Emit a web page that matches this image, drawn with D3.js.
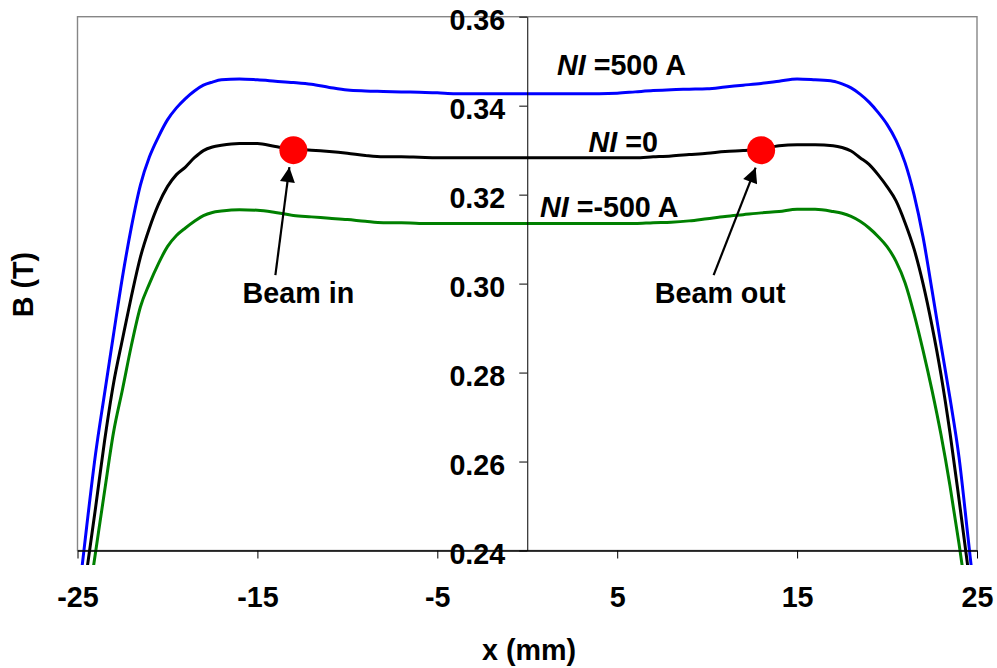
<!DOCTYPE html>
<html>
<head>
<meta charset="utf-8">
<script src="https://cdn.jsdelivr.net/npm/d3@7"></script>
<style>
  html, body { margin: 0; padding: 0; background: #fff; }
  svg { display: block; }
  text { font-family: "Liberation Sans", Arial, Helvetica, sans-serif; font-weight: bold; fill: #000; }
</style>
</head>
<body>
<svg id="chart" width="997" height="668"></svg>
<script>
// Field profile B(x) across the magnet gap for three coil currents NI
const xs = [-24.8, -24.5, -24, -23.5, -23, -22.5, -22, -21.5, -21, -20.5, -20, -19.5, -19, -18.5, -18, -17.5, -17,
  -16, -15, -14, -13, -12, -11, -10, -9, -8, -7, -6, -5, -4, -3, -2, -1, 0, 1, 2, 3, 4, 5, 6, 7, 8, 9, 10, 11, 12,
  13, 14, 15, 16, 17, 17.5, 18, 18.5, 19, 19.5, 20, 20.5, 21, 21.5, 22, 22.5, 23, 23.5, 24, 24.5, 24.8];

const bPlus500 = [0.2345, 0.2450, 0.2616, 0.2752, 0.2885, 0.3015, 0.3128, 0.3222, 0.3285, 0.3330, 0.3368, 0.3395,
  0.3416, 0.3433, 0.3446, 0.3453, 0.3458, 0.3460, 0.3458, 0.3455, 0.3452, 0.3448, 0.3441, 0.3435, 0.3433, 0.3432,
  0.3431, 0.3430, 0.3429, 0.3427, 0.3427, 0.3427, 0.3427, 0.3427, 0.3427, 0.3427, 0.3427, 0.3427, 0.3428, 0.3431,
  0.3434, 0.3436, 0.3437, 0.3438, 0.3442, 0.3446, 0.3450, 0.3455, 0.3460, 0.3458, 0.3455, 0.3449, 0.3440, 0.3426,
  0.3408, 0.3385, 0.3358, 0.3322, 0.3272, 0.3200, 0.3105, 0.2985, 0.2862, 0.2742, 0.2610, 0.2430, 0.2320];

const bZero = [0.2260, 0.2350, 0.2495, 0.2645, 0.2775, 0.2875, 0.2972, 0.3060, 0.3125, 0.3178, 0.3218, 0.3245,
  0.3262, 0.3283, 0.3299, 0.3307, 0.3311, 0.3315, 0.3315, 0.3308, 0.3302, 0.3300, 0.3297, 0.3293, 0.3288, 0.3285,
  0.3285, 0.3284, 0.3283, 0.3283, 0.3283, 0.3283, 0.3283, 0.3283, 0.3283, 0.3283, 0.3283, 0.3283, 0.3283, 0.3283,
  0.3285, 0.3287, 0.3290, 0.3293, 0.3297, 0.3299, 0.3302, 0.3310, 0.3312, 0.3312, 0.3310, 0.3306, 0.3298, 0.3283,
  0.3268, 0.3245, 0.3218, 0.3186, 0.3137, 0.3078, 0.3000, 0.2905, 0.2795, 0.2664, 0.2515, 0.2360, 0.2265];

const bMinus500 = [0.2175, 0.2258, 0.2395, 0.2532, 0.2665, 0.2762, 0.2862, 0.2948, 0.3000, 0.3045, 0.3083, 0.3108,
  0.3125, 0.3140, 0.3153, 0.3160, 0.3163, 0.3166, 0.3165, 0.3160, 0.3153, 0.3150, 0.3147, 0.3144, 0.3140, 0.3137,
  0.3137, 0.3135, 0.3135, 0.3135, 0.3135, 0.3135, 0.3135, 0.3135, 0.3135, 0.3135, 0.3135, 0.3135, 0.3135, 0.3135,
  0.3137, 0.3138, 0.3141, 0.3146, 0.3151, 0.3155, 0.3159, 0.3162, 0.3167, 0.3167, 0.3162, 0.3158, 0.3151, 0.3140,
  0.3125, 0.3106, 0.3083, 0.3050, 0.3002, 0.2932, 0.2850, 0.2760, 0.2660, 0.2545, 0.2415, 0.2275, 0.2190];

const xTicks = [-25, -15, -5, 5, 15, 25];
const yTicks = [0.24, 0.26, 0.28, 0.30, 0.32, 0.34, 0.36];

// Beam entry / exit points on the NI = 0 curve
const beamX = [-13, 13];
const beamB = [0.330, 0.330];
const beamLabels = ["Beam in", "Beam out"];

const curveNames = ["=500 A", "=0", "=-500 A"];

const FONT = 28.7;
const svg = d3.select("#chart");
svg.append("rect").attr("width", 997).attr("height", 668).attr("fill", "#fff");

const plotLeft = 77.5, plotRight = 977, plotTop = 16.7, plotBottom = 550.5;
const x = d3.scaleLinear().domain([-25, 25]).range([plotLeft, plotRight]);
const y = d3.scaleLinear().domain([0.24, 0.36]).range([plotBottom, plotTop]);

// plot frame
svg.append("rect")
  .attr("x", plotLeft).attr("y", plotTop)
  .attr("width", plotRight - plotLeft).attr("height", plotBottom - plotTop)
  .attr("fill", "none").attr("stroke", "#868686").attr("stroke-width", 1.4);

// curves, clipped a little below the bottom axis
svg.append("clipPath").attr("id", "plotClip")
  .append("rect").attr("x", plotLeft).attr("y", plotTop)
  .attr("width", plotRight - plotLeft).attr("height", 565 - plotTop);

const series = [
  { values: bPlus500, color: "#0000ff" },
  { values: bZero, color: "#000000" },
  { values: bMinus500, color: "#008000" }
];

const line = d3.line()
  .x(d => x(d[0]))
  .y(d => y(d[1]))
  .curve(d3.curveMonotoneX);

const curves = svg.append("g").attr("clip-path", "url(#plotClip)");
series.forEach(s => {
  curves.append("path")
    .datum(xs.map((v, i) => [v, s.values[i]]))
    .attr("d", line)
    .attr("fill", "none")
    .attr("stroke", s.color)
    .attr("stroke-width", 3)
    .attr("stroke-linejoin", "round");
});

// x axis along the bottom (plain hyphen for negative labels)
const xAxis = svg.append("g")
  .attr("transform", `translate(0,${plotBottom})`)
  .call(d3.axisBottom(x).tickValues(xTicks).tickSize(8).tickSizeOuter(0).tickFormat(d => String(d)));
xAxis.select(".domain").attr("stroke", "#000").attr("stroke-width", 1.4);
xAxis.selectAll(".tick line").attr("stroke", "#000");
xAxis.selectAll(".tick text")
  .attr("y", 56).attr("dy", 0)
  .style("font-size", FONT + "px").style("font-family", "'Liberation Sans', Arial, sans-serif")
  .style("font-weight", "bold").attr("fill", "#000");

// y axis through x = 0
const yAxis = svg.append("g")
  .attr("transform", `translate(${x(0)},0)`)
  .call(d3.axisLeft(y).tickValues(yTicks).tickSize(8).tickSizeOuter(0).tickPadding(14).tickFormat(d3.format(".2f")));
yAxis.select(".domain").attr("stroke", "#000").attr("stroke-width", 1);
yAxis.selectAll(".tick line").attr("stroke", "#000");
yAxis.selectAll(".tick text")
  .attr("dy", "0.45em")
  .style("font-size", FONT + "px").style("font-family", "'Liberation Sans', Arial, sans-serif")
  .style("font-weight", "bold").attr("fill", "#000");

// axis titles
svg.append("text")
  .attr("x", 529).attr("y", 660)
  .attr("text-anchor", "middle")
  .style("font-size", FONT + "px")
  .text("x (mm)");

svg.append("text")
  .attr("transform", "translate(33,284.5) rotate(-90)")
  .attr("text-anchor", "middle")
  .style("font-size", FONT + "px")
  .text("B (T)");

// curve labels: italic NI followed by the current
const curveLabelPos = [[557, 75], [588.5, 151.5], [540, 216.5]];
curveNames.forEach((name, i) => {
  const t = svg.append("text")
    .attr("x", curveLabelPos[i][0]).attr("y", curveLabelPos[i][1])
    .style("font-size", FONT + "px")
    .style("white-space", "pre");
  t.append("tspan").style("font-style", "italic").text("NI");
  t.append("tspan").text(" " + name);
});

// beam markers with arrows and labels
const defs = svg.append("defs");
defs.append("marker")
  .attr("id", "arrowHead")
  .attr("viewBox", "0 0 10 10")
  .attr("refX", 10).attr("refY", 5)
  .attr("markerUnits", "userSpaceOnUse")
  .attr("markerWidth", 16).attr("markerHeight", 15)
  .attr("orient", "auto")
  .append("path").attr("d", "M0,0 L10,5 L0,10 Z").attr("fill", "#000");

const arrowTail = [[-18, 125], [-47.5, 125]];
const arrowTip = [[-4, 17], [-5.5, 17.5]];
const labelOff = [[5, 153], [-41, 153]];

beamX.forEach((bx, i) => {
  const cx = x(bx), cy = y(beamB[i]);
  svg.append("line")
    .attr("x1", cx + arrowTail[i][0]).attr("y1", cy + arrowTail[i][1])
    .attr("x2", cx + arrowTip[i][0]).attr("y2", cy + arrowTip[i][1])
    .attr("stroke", "#000").attr("stroke-width", 2.2)
    .attr("marker-end", "url(#arrowHead)");
  svg.append("circle")
    .attr("cx", cx).attr("cy", cy).attr("r", 14)
    .attr("fill", "#ff0000");
  svg.append("text")
    .attr("x", cx + labelOff[i][0]).attr("y", cy + labelOff[i][1])
    .attr("text-anchor", "middle")
    .style("font-size", FONT + "px")
    .text(beamLabels[i]);
});
</script>
</body>
</html>
